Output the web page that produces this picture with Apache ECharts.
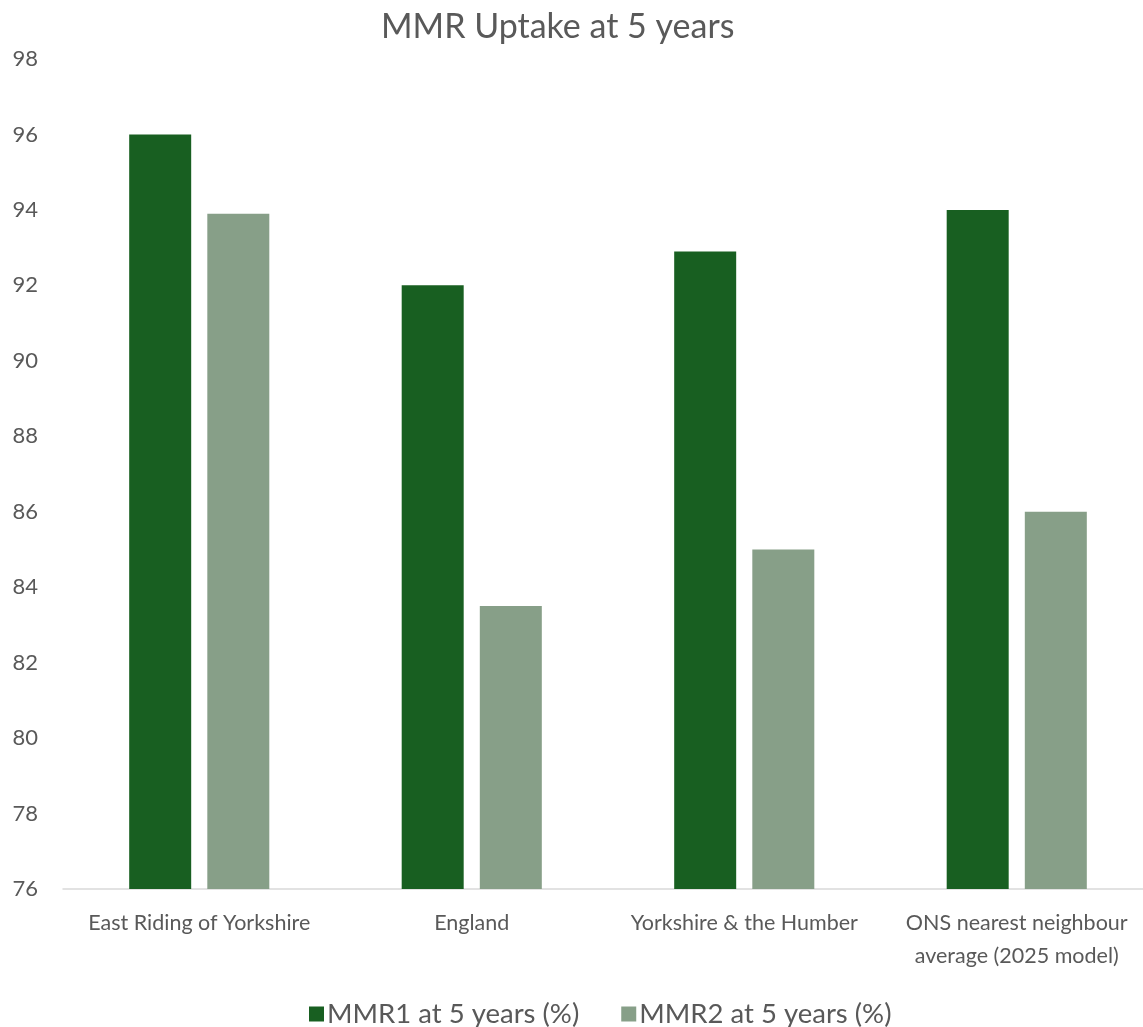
<!DOCTYPE html>
<html>
<head>
<meta charset="utf-8">
<script src="https://cdn.jsdelivr.net/npm/echarts@6/dist/echarts.min.js"></script>
<style>
  html, body { margin: 0; padding: 0; background: #ffffff; overflow: hidden; }
  #chart { width: 1153px; height: 1027px; }
</style>
</head>
<body>
<div id="chart"></div>
<script>
// Areas compared
const categories = [
  'East Riding of Yorkshire',
  'England',
  'Yorkshire & the Humber',
  'ONS nearest neighbour\naverage (2025 model)'
];
// Uptake at 5 years (%)
const mmr1 = [96.0, 92.0, 92.9, 94.0];
const mmr2 = [93.9, 83.5, 85.0, 86.0];
const seriesNames = ['MMR1 at 5 years (%)', 'MMR2 at 5 years (%)'];
const yMin = 76, yMax = 98, yStep = 2;

const font = 'Lato, "Open Sans", sans-serif';
const textColor = '#595959';

const chart = echarts.init(document.getElementById('chart'));
chart.setOption({
  animation: false,
  title: {
    text: 'MMR Uptake at 5 years',
    left: 376,
    top: 5,
    textStyle: { fontFamily: font, fontSize: 34, fontWeight: 'normal', color: textColor }
  },
  legend: {
    top: 995,
    left: 304,
    itemWidth: 15,
    itemHeight: 15,
    itemGap: 42,
    icon: 'rect',
    textStyle: { fontFamily: font, fontSize: 27.5, color: textColor, padding: [0, 0, 0, -2] },
    data: seriesNames
  },
  grid: { left: 63, top: 59, right: 0, height: 830 },
  xAxis: {
    type: 'category',
    data: categories,
    axisLine: { lineStyle: { color: '#d9d9d9', width: 1.5 } },
    axisTick: { show: false },
    axisLabel: {
      fontFamily: font, fontSize: 21.5, color: textColor,
      margin: 18, lineHeight: 33, interval: 0
    }
  },
  yAxis: {
    type: 'value',
    min: yMin, max: yMax, interval: yStep,
    axisLine: { show: false },
    axisTick: { show: false },
    splitLine: { show: false },
    axisLabel: { fontFamily: font, fontSize: 22, color: textColor, margin: 25 }
  },
  series: [
    {
      name: seriesNames[0], type: 'bar', data: mmr1,
      barWidth: 62, barGap: '26%',
      itemStyle: { color: '#185F21' }
    },
    {
      name: seriesNames[1], type: 'bar', data: mmr2,
      barWidth: 62,
      itemStyle: { color: '#879F88' }
    }
  ]
});
</script>
</body>
</html>
